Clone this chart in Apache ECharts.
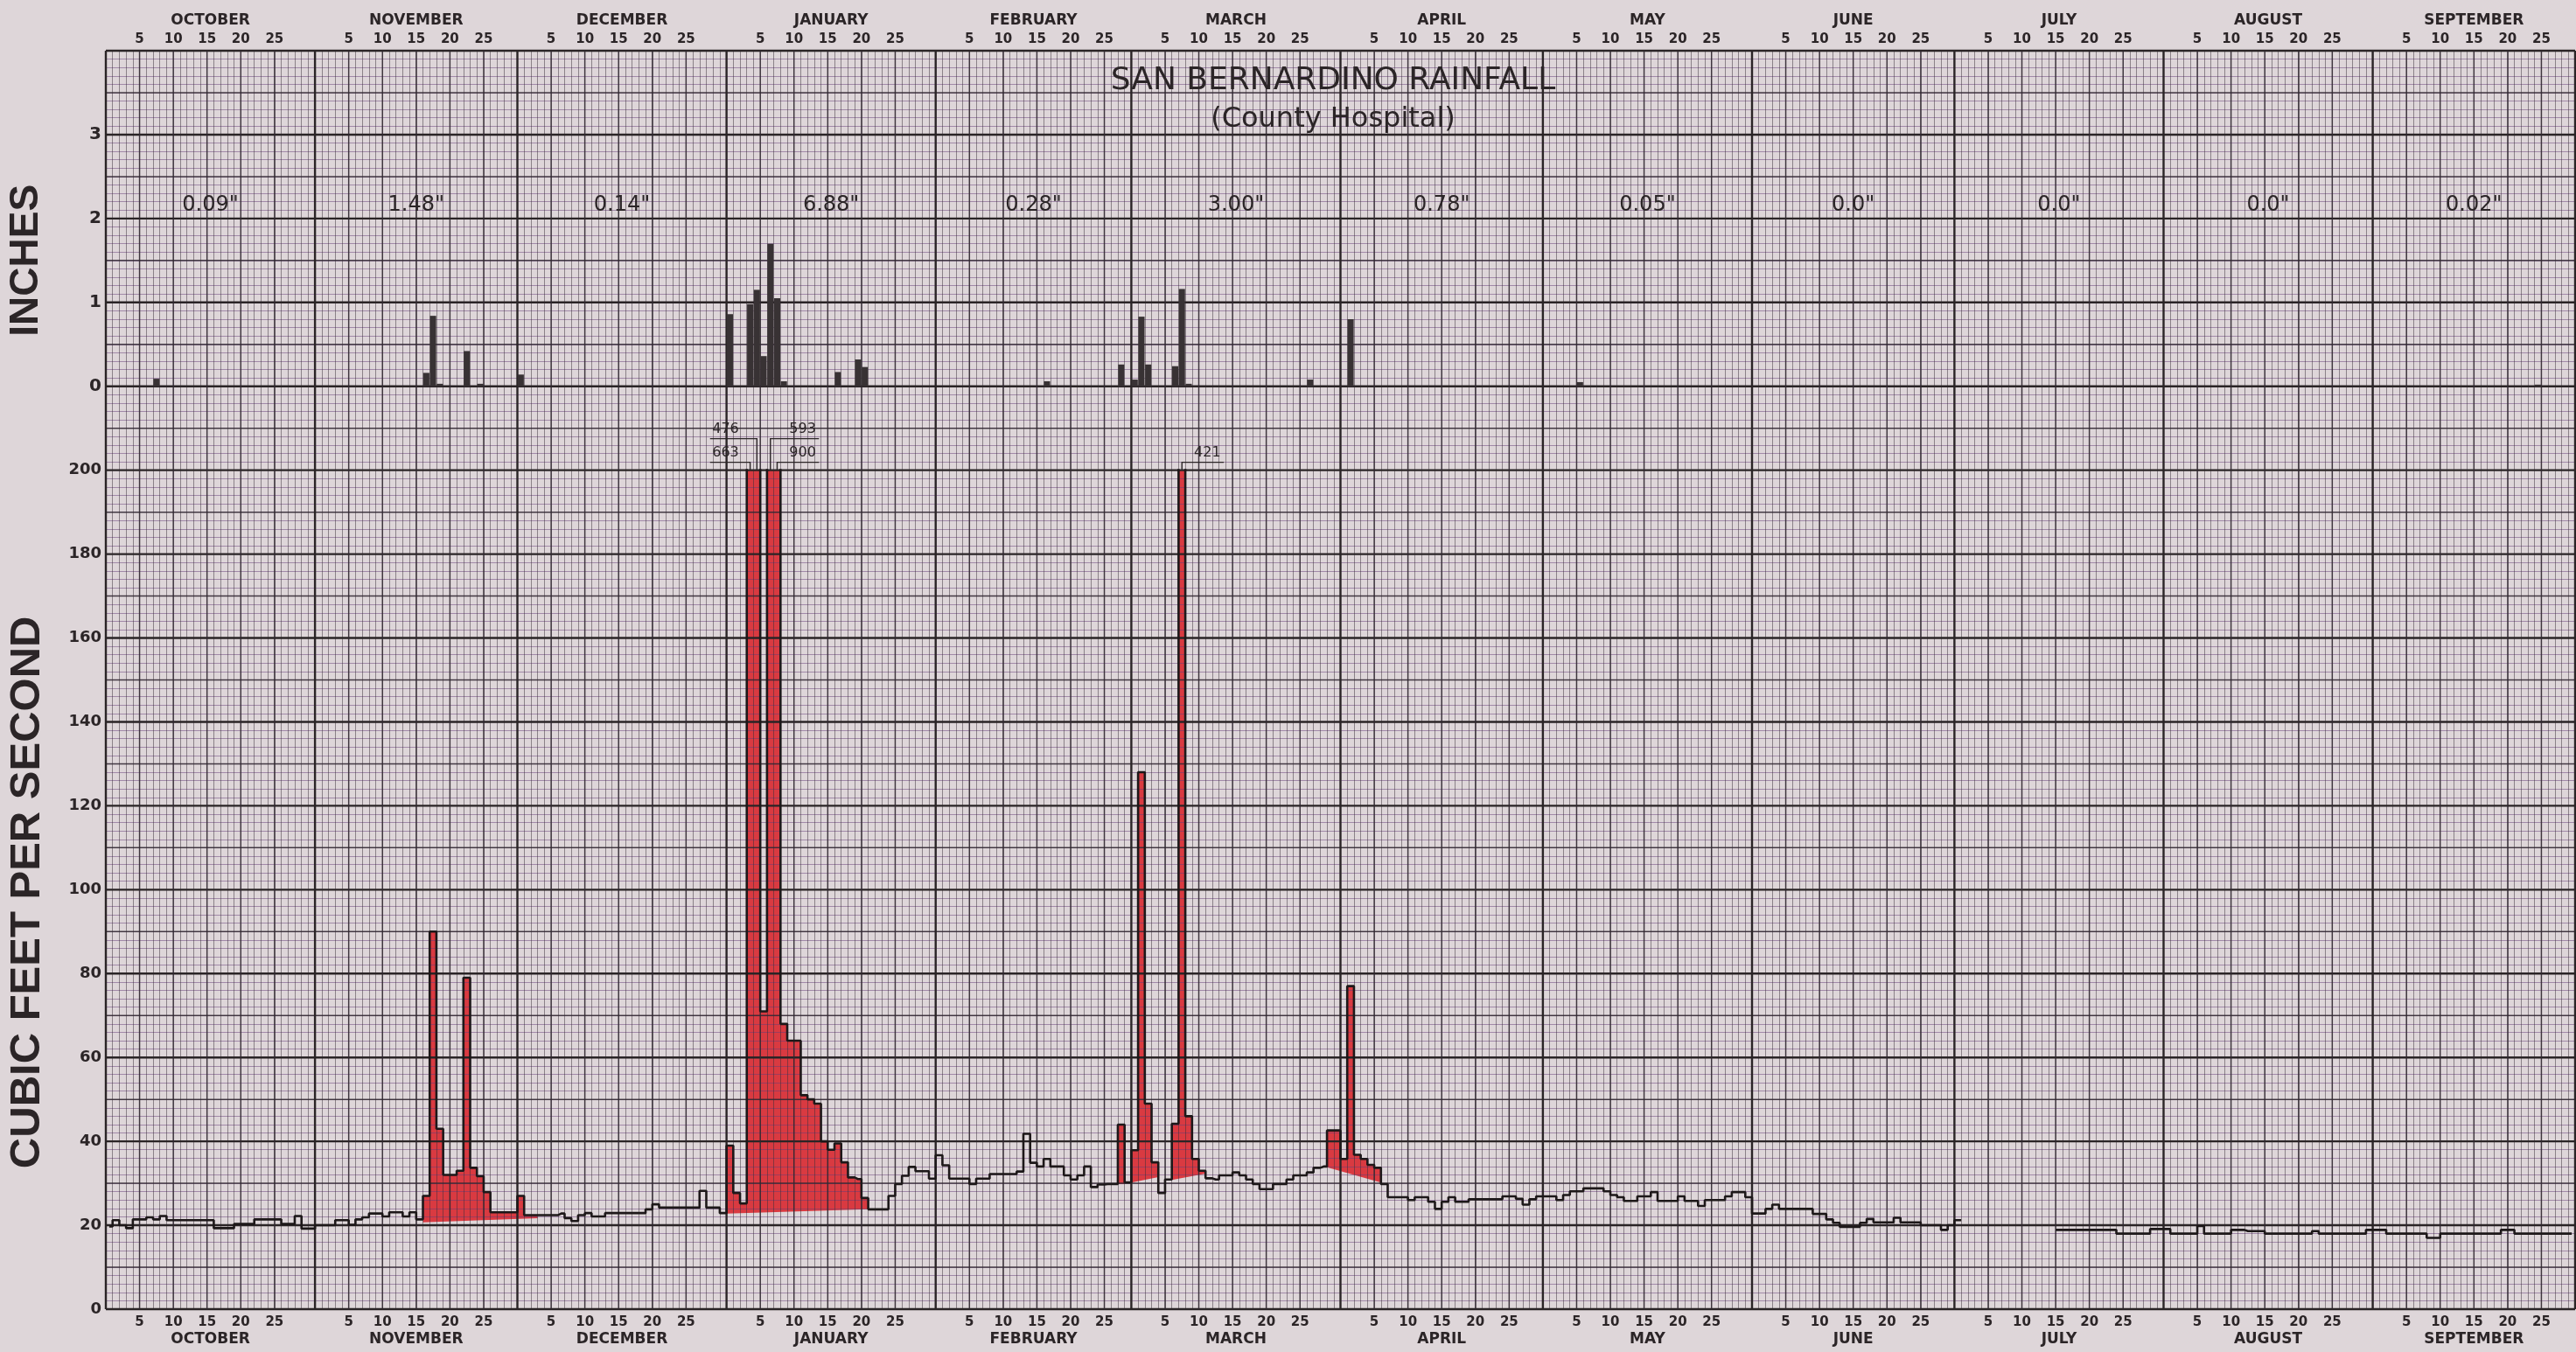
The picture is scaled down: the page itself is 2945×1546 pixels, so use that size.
<!DOCTYPE html>
<html>
<head>
<meta charset="utf-8">
<title>San Bernardino Rainfall</title>
<script src="https://cdn.jsdelivr.net/npm/echarts@6/dist/echarts.min.js"></script>
<style>
  html, body { margin: 0; padding: 0; background: #ded6d9; }
  #hydrograph { width: 2945px; height: 1546px; }
</style>
</head>
<body>
<div id="hydrograph"></div>
<script>
// Hydrograph with daily rainfall - water year October to September

// Calendar
const monthNames = ['OCTOBER', 'NOVEMBER', 'DECEMBER', 'JANUARY', 'FEBRUARY', 'MARCH',
                    'APRIL', 'MAY', 'JUNE', 'JULY', 'AUGUST', 'SEPTEMBER'];
const monthNumbers = [10, 11, 12, 1, 2, 3, 4, 5, 6, 7, 8, 9];
const monthLengths = [31, 30, 31, 31, 29, 31, 30, 31, 30, 31, 31, 30];
const dayTicks = [5, 10, 15, 20, 25];

// Rainfall (inches)
const monthTotals = ['0.09"', '1.48"', '0.14"', '6.88"', '0.28"', '3.00"',
                     '0.78"', '0.05"', '0.0"', '0.0"', '0.0"', '0.02"'];
const rainDates = ['10-08', '11-17', '11-18', '11-19', '11-23', '11-25', '12-01',
                   '01-01', '01-04', '01-05', '01-06', '01-07', '01-08', '01-09',
                   '01-17', '01-20', '01-21', '02-17', '02-28', '03-01', '03-02',
                   '03-03', '03-07', '03-08', '03-09', '03-27', '04-02', '05-06', '09-25'];
const rainInches = [0.09, 0.16, 0.84, 0.03, 0.42, 0.03, 0.14,
                    0.86, 0.98, 1.15, 0.36, 1.70, 1.05, 0.06,
                    0.17, 0.32, 0.23, 0.06, 0.26, 0.08, 0.83,
                    0.26, 0.24, 1.16, 0.03, 0.08, 0.80, 0.05, 0.02];

// Daily mean discharge (cubic feet per second)
const flowOct = [19.7, 21.2, 20.0, 19.3, 21.4, 21.4, 21.9, 21.4, 22.2, 21.2, 21.2, 21.2, 21.2, 21.2, 21.2, 21.2,
                 19.3, 19.3, 19.3, 20.3, 20.3, 20.3, 21.4, 21.4, 21.4, 21.4, 20.3, 20.3, 22.2, 19.2, 19.2];
const flowNov = [20.0, 20.0, 20.0, 21.2, 21.2, 20.1, 21.4, 21.9, 22.8, 22.8, 22.1, 23.1, 23.1, 22.1, 23.1,
                 21.4, 27.0, 90.0, 43.0, 32.0, 32.0, 33.0, 79.0, 33.7, 31.7, 27.9, 23.1, 23.1, 23.1, 23.1];
const flowDec = [27.0, 22.4, 22.4, 22.4, 22.4, 22.4, 22.8, 21.7, 21.0, 22.4, 22.9, 22.1, 22.1, 22.9, 22.9, 22.9,
                 22.9, 22.9, 22.9, 23.8, 25.0, 24.2, 24.2, 24.2, 24.2, 24.2, 24.2, 28.2, 24.2, 24.2, 22.9];
const flowJan = [39.0, 27.7, 25.2, 663, 476, 71.0, 593, 900, 68.0, 64.0, 64.0, 51.0, 50.0, 49.0, 40.0, 38.0,
                 39.5, 35.0, 31.4, 31.0, 26.5, 23.8, 23.8, 23.8, 27.0, 29.8, 31.8, 33.9, 32.9, 32.9, 31.1];
const flowFeb = [36.7, 34.3, 31.1, 31.1, 31.1, 29.8, 31.1, 31.1, 32.2, 32.2, 32.2, 32.2, 32.8, 41.8, 34.9,
                 34.0, 35.8, 34.0, 34.0, 31.9, 30.9, 31.9, 34.0, 29.1, 29.7, 29.8, 29.8, 44.0, 30.2];
const flowMar = [37.9, 128, 49.0, 35.0, 27.7, 30.9, 44.2, 421, 46.0, 35.8, 33.0, 31.2, 30.9, 31.9, 31.9, 32.6,
                 31.9, 30.9, 29.8, 28.6, 28.6, 29.8, 29.8, 30.9, 31.9, 31.9, 32.6, 33.7, 34.0, 42.6, 42.6];
const flowApr = [35.8, 77.0, 36.8, 35.8, 34.4, 33.7, 29.8, 26.7, 26.7, 26.7, 26.0, 26.7, 26.7, 25.6, 23.9,
                 25.6, 26.7, 25.6, 25.6, 26.2, 26.2, 26.2, 26.2, 26.2, 26.9, 26.9, 26.3, 24.9, 26.2, 26.9];
const flowMay = [26.9, 26.9, 26.0, 27.2, 28.1, 28.1, 28.8, 28.8, 28.8, 28.1, 27.2, 26.7, 25.8, 25.8, 26.9, 26.9,
                 27.9, 25.8, 25.8, 25.8, 26.9, 25.8, 25.8, 24.6, 26.0, 26.0, 26.0, 26.9, 27.9, 27.9, 26.7];
const flowJun = [22.8, 22.8, 23.9, 24.9, 23.9, 23.9, 23.9, 23.9, 23.9, 22.7, 22.7, 21.4, 20.6, 19.6, 19.6,
                 19.6, 20.6, 21.5, 20.7, 20.7, 20.7, 21.8, 20.7, 20.7, 20.7, 20.0, 20.0, 20.0, 18.9, 20.0];
const flowJul = [21.2, null, null, null, null, null, null, null, null, null, null, null, null, null, null,
                 18.9, 18.9, 18.9, 18.9, 18.9, 18.9, 18.9, 18.9, 18.9, 18.0, 18.0, 18.0, 18.0, 18.0, 19.1, 19.1];
const flowAug = [19.1, 18.0, 18.0, 18.0, 18.0, 19.8, 18.0, 18.0, 18.0, 18.0, 18.9, 18.9, 18.6, 18.6, 18.6, 18.0,
                 18.0, 18.0, 18.0, 18.0, 18.0, 18.0, 18.6, 18.0, 18.0, 18.0, 18.0, 18.0, 18.0, 18.0, 18.9];
const flowSep = [18.9, 18.9, 18.0, 18.0, 18.0, 18.0, 18.0, 18.0, 17.0, 17.0, 18.0, 18.0, 18.0, 18.0, 18.0,
                 18.0, 18.0, 18.0, 18.0, 18.9, 18.9, 18.0, 18.0, 18.0, 18.0, 18.0, 18.0, 18.0, 18.0, 18.0];

// Storm runoff (red) above the base flow separation line
const stormFrom = ['11-17', '01-01', '02-28', '03-01', '03-07', '03-30'];
const stormTo = ['12-03', '01-21', '02-28', '03-04', '03-11', '04-06'];
const baseFrom = [20.7, 22.8, 29.8, 30.2, 30.8, 33.8];
const baseTo = [21.7, 23.8, 29.8, 31.5, 32.3, 30.2];

// Layout and style
const W = 2945, H = 1546;
const PLOT_LEFT = 121, PLOT_RIGHT = 2944, PLOT_TOP = 58, PLOT_BOTTOM = 1497;
const CELLS = 15;
const CELL = (PLOT_BOTTOM - PLOT_TOP) / CELLS;
const RAIN_MAX = 4, FLOW_MAX = 200;
const TOTALS_Y = 2.16;
const INK = '#2b2527';
const PAPER = '#ded6d9';
const RED = '#d93a41';
const FONT = '"DejaVu Sans", "Liberation Sans", sans-serif';

function pad(n) { return n < 10 ? '0' + n : String(n); }

// Build the day list
const days = [];
const monthStart = [];
monthLengths.forEach(function (len, m) {
    monthStart.push(days.length);
    for (let d = 1; d <= len; d++) days.push(pad(monthNumbers[m]) + '-' + pad(d));
});
const dayIndex = {};
days.forEach(function (k, i) { dayIndex[k] = i; });

const flow = [].concat(flowOct, flowNov, flowDec, flowJan, flowFeb, flowMar,
                       flowApr, flowMay, flowJun, flowJul, flowAug, flowSep);
const rain = days.map(function () { return null; });
rainDates.forEach(function (k, i) { rain[dayIndex[k]] = rainInches[i]; });

const storms = stormFrom.map(function (k, i) {
    return [dayIndex[k], dayIndex[stormTo[i]], baseFrom[i], baseTo[i]];
});
const peaks = [];
flow.forEach(function (v, i) { if (v > FLOW_MAX) peaks.push([i, v]); });

// Graph paper: heavy and medium rulings
const paperLines = [];
for (let k = 0; k <= CELLS * 2; k++) paperLines.push([0, k / 2, k % 2 === 0 ? 1 : 0]);
monthStart.forEach(function (s) {
    paperLines.push([1, s, 1]);
    dayTicks.forEach(function (t) { paperLines.push([1, s + t, 0]); });
});
paperLines.push([1, days.length, 1]);

function renderPaper(params, api) {
    const vertical = api.value(0) === 1;
    const pos = api.value(1);
    const heavy = api.value(2) === 1;
    const p1 = vertical ? api.coord([pos, 0]) : api.coord([0, pos]);
    const p2 = vertical ? api.coord([pos, CELLS]) : api.coord([days.length, pos]);
    return {
        type: 'line',
        shape: { x1: p1[0], y1: p1[1], x2: p2[0], y2: p2[1] },
        style: { stroke: heavy ? '#2a2426' : 'rgba(48,40,48,0.85)', lineWidth: heavy ? 2.4 : 1.5 }
    };
}

function label(text, x, y, font, align) {
    return {
        type: 'text', x: x, y: y,
        style: { text: text, fill: INK, font: font, textAlign: align || 'center', textVerticalAlign: 'middle' }
    };
}

function renderCalendar(params, api) {
    const start = api.value(0), len = api.value(1);
    const name = monthNames[params.dataIndex];
    const top = api.coord([0, CELLS])[1];
    const bottom = api.coord([0, 0])[1];
    const mid = api.coord([start + len / 2, 0])[0];
    const monthFont = 'bold 17px ' + FONT;
    const dayFont = 'bold 15px ' + FONT;
    const children = [label(name, mid, top - 34, monthFont), label(name, mid, bottom + 35, monthFont)];
    dayTicks.forEach(function (t) {
        const x = api.coord([start + t, 0])[0];
        children.push(label(String(t), x, top - 13, dayFont));
        children.push(label(String(t), x, bottom + 15, dayFont));
    });
    return { type: 'group', children: children };
}

function renderTotals(params, api) {
    const start = api.value(0), len = api.value(1);
    const a = api.coord([start, TOTALS_Y]);
    const b = api.coord([start + len - 1, TOTALS_Y]);
    return label(monthTotals[params.dataIndex], (a[0] + b[0]) / 2, a[1], '24px ' + FONT);
}

function renderStorm(params, api) {
    const a = api.value(0), b = api.value(1);
    const half = api.size([1, 0])[0] / 2;
    const first = api.coord([a, api.value(2)]);
    const last = api.coord([b, api.value(3)]);
    const pts = [[first[0] - half, first[1]]];
    for (let d = a; d <= b; d++) {
        const c = api.coord([d, Math.min(flow[d], FLOW_MAX)]);
        pts.push([c[0] - half, c[1]], [c[0] + half, c[1]]);
    }
    pts.push([last[0] + half, last[1]]);
    return { type: 'polygon', shape: { points: pts }, style: { fill: RED } };
}

function renderPeak(params, api) {
    const d = api.value(0);
    const top = api.coord([d, FLOW_MAX]);
    const half = api.size([1, 0])[0] / 2;
    let s = d, e = d;
    while (flow[s - 1] > FLOW_MAX) s--;
    while (flow[e + 1] > FLOW_MAX) e++;
    const onLeft = flow.slice(e + 2, e + 4).some(function (v) { return v > FLOW_MAX; });
    const level = onLeft ? d - s : e - d;
    const lineY = top[1] - 9 - 27 * level;
    const textY = lineY - 11;
    let pts, tx, align;
    if (onLeft) {
        const edge = api.coord([s, FLOW_MAX])[0] - half;
        pts = [[edge - 42, lineY], [top[0], lineY], [top[0], top[1]]];
        tx = edge - 9; align = 'right';
    } else {
        const edge = api.coord([e, FLOW_MAX])[0] + half;
        pts = [[edge + 44, lineY], [top[0], lineY], [top[0], top[1]]];
        tx = edge + 10; align = 'left';
    }
    return {
        type: 'group',
        children: [
            { type: 'polyline', shape: { points: pts }, style: { stroke: INK, lineWidth: 1.4, fill: null } },
            label(String(flow[d]), tx, textY, '16px ' + FONT, align)
        ]
    };
}

const chart = echarts.init(document.getElementById('hydrograph'));

chart.setOption({
    animation: false,
    backgroundColor: PAPER,
    title: {
        text: 'SAN BERNARDINO RAINFALL',
        subtext: '(County Hospital)',
        left: 1519,
        top: 70,
        textAlign: 'center',
        itemGap: 10,
        textStyle: { fontFamily: FONT, fontSize: 36, fontWeight: 'normal', color: INK },
        subtextStyle: { fontFamily: FONT, fontSize: 32, color: INK }
    },
    graphic: [
        {
            type: 'text', x: 30, y: (PLOT_TOP + PLOT_TOP + CELL * 5) / 2, rotation: Math.PI / 2,
            style: { text: 'INCHES', fill: INK, font: 'bold 46px "Liberation Sans", sans-serif',
                     textAlign: 'center', textVerticalAlign: 'middle' }
        },
        {
            type: 'text', x: 31, y: (PLOT_TOP + CELL * 5 + PLOT_BOTTOM) / 2 + 3, rotation: Math.PI / 2,
            style: { text: 'CUBIC FEET PER SECOND', fill: INK, font: 'bold 49px "Liberation Sans", sans-serif',
                     textAlign: 'center', textVerticalAlign: 'middle' }
        }
    ],
    grid: [
        { left: PLOT_LEFT, right: W - PLOT_RIGHT, top: PLOT_TOP, bottom: H - PLOT_BOTTOM, outerBoundsMode: 'none' },
        { left: PLOT_LEFT, right: W - PLOT_RIGHT, top: PLOT_TOP, height: CELL * RAIN_MAX, outerBoundsMode: 'none' },
        { left: PLOT_LEFT, right: W - PLOT_RIGHT, top: PLOT_TOP + CELL * 5, bottom: H - PLOT_BOTTOM, outerBoundsMode: 'none' }
    ],
    xAxis: [
        {
            type: 'value', gridIndex: 0, min: 0, max: days.length, interval: 1, z: 3,
            axisLine: { show: false }, axisTick: { show: false }, axisLabel: { show: false },
            splitLine: { show: true, lineStyle: { color: 'rgba(55,45,55,0.5)', width: 1 } }
        },
        { type: 'category', gridIndex: 1, data: days, boundaryGap: true, show: false },
        { type: 'category', gridIndex: 2, data: days, boundaryGap: true, show: false }
    ],
    yAxis: [
        {
            type: 'value', gridIndex: 0, min: 0, max: CELLS, interval: 0.1, z: 3,
            axisLine: { show: false }, axisTick: { show: false }, axisLabel: { show: false },
            splitLine: { show: true, lineStyle: { color: 'rgba(100,60,120,0.5)', width: 1 } }
        },
        {
            type: 'value', gridIndex: 1, min: 0, max: RAIN_MAX, interval: 1,
            axisLine: { show: false }, axisTick: { show: false }, splitLine: { show: false },
            axisLabel: {
                margin: 5, color: INK, fontFamily: FONT, fontWeight: 'bold', fontSize: 20,
                formatter: function (v) { return v < RAIN_MAX ? String(v) : ''; }
            }
        },
        {
            type: 'value', gridIndex: 2, min: 0, max: FLOW_MAX, interval: 20,
            axisLine: { show: false }, axisTick: { show: false }, splitLine: { show: false },
            axisLabel: { margin: 5, color: INK, fontFamily: FONT, fontWeight: 'bold', fontSize: 18 }
        }
    ],
    series: [
        {
            name: 'paper', type: 'custom', xAxisIndex: 0, yAxisIndex: 0, z: 3, silent: true,
            renderItem: renderPaper, data: paperLines
        },
        {
            name: 'calendar', type: 'custom', xAxisIndex: 0, yAxisIndex: 0, z: 6, silent: true,
            renderItem: renderCalendar,
            data: monthStart.map(function (s, m) { return [s, monthLengths[m]]; })
        },
        {
            name: 'Storm runoff', type: 'custom', xAxisIndex: 2, yAxisIndex: 2, z: 2, silent: true,
            renderItem: renderStorm, data: storms
        },
        {
            name: 'Discharge', type: 'line', xAxisIndex: 2, yAxisIndex: 2, z: 5,
            data: flow, step: 'middle', symbol: 'none', connectNulls: false,
            lineStyle: { color: '#1d1819', width: 2.6 }
        },
        {
            name: 'Rainfall', type: 'bar', xAxisIndex: 1, yAxisIndex: 1, z: 5,
            data: rain, barCategoryGap: '8%',
            itemStyle: { color: '#383234' }
        },
        {
            name: 'Monthly totals', type: 'custom', xAxisIndex: 1, yAxisIndex: 1, z: 6, silent: true,
            renderItem: renderTotals,
            data: monthStart.map(function (s, m) { return [s, monthLengths[m]]; })
        },
        {
            name: 'Peaks', type: 'custom', xAxisIndex: 2, yAxisIndex: 2, z: 6, silent: true,
            renderItem: renderPeak, data: peaks
        }
    ]
});

window.addEventListener('resize', function () { chart.resize(); });
</script>
</body>
</html>
